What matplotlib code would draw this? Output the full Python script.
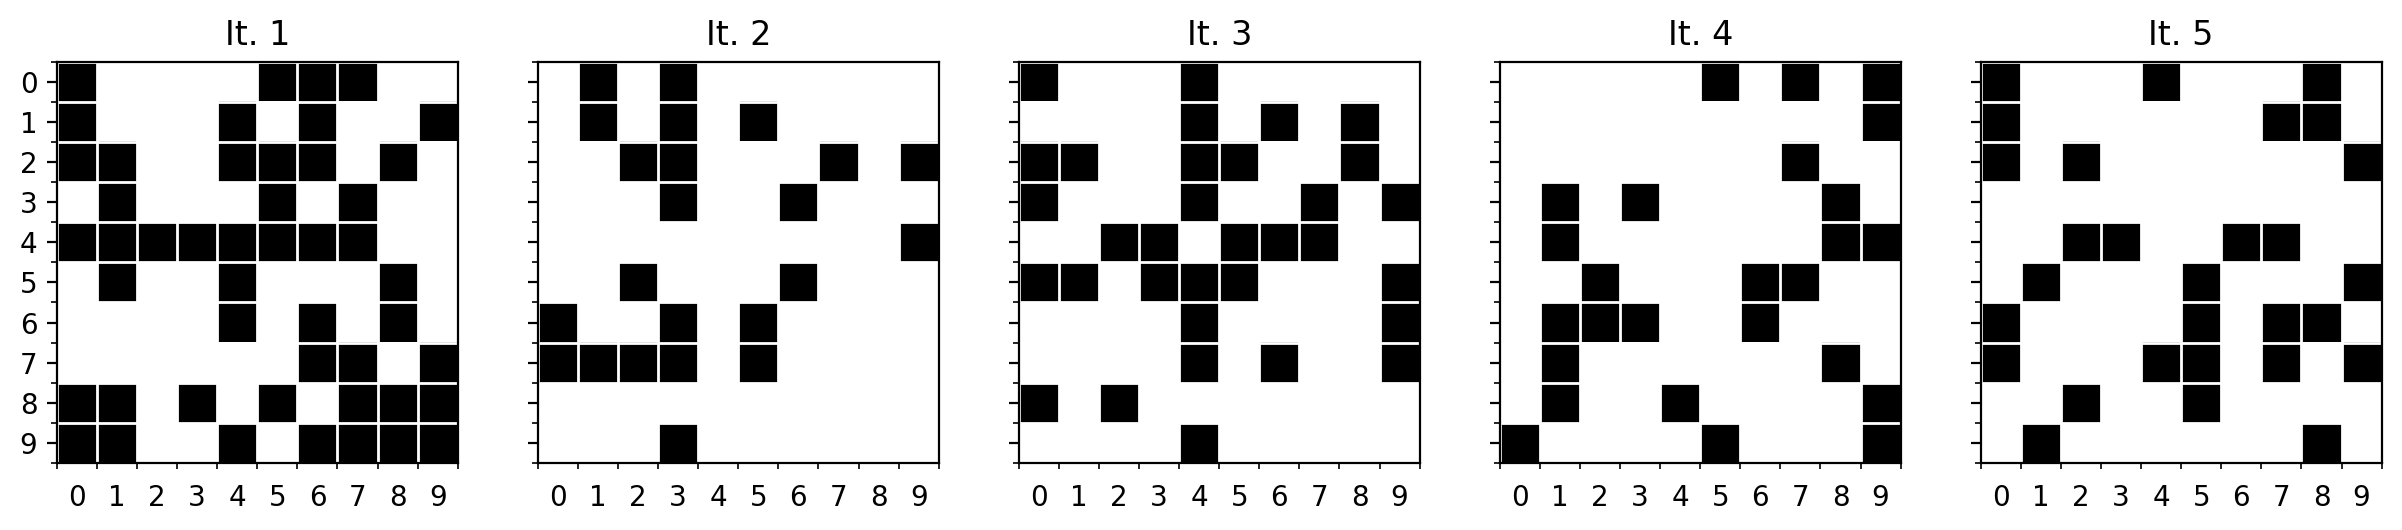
import numpy as np
import matplotlib
matplotlib.use("Agg")
import matplotlib.pyplot as plt

# cell states per iteration, one string per row (1 = black)
it1 = ["1000011100",
       "1000101001",
       "1100111010",
       "0100010100",
       "1111111100",
       "0100100010",
       "0000101010",
       "0000001101",
       "1101010111",
       "1100101111"]
it2 = ["0101000000",
       "0101010000",
       "0011000101",
       "0001001000",
       "0000000001",
       "0010001000",
       "1001010000",
       "1111010000",
       "0000000000",
       "0001000000"]
it3 = ["1000100000",
       "0000101010",
       "1100110010",
       "1000100101",
       "0011011100",
       "1101110001",
       "0000100001",
       "0000101001",
       "1010000000",
       "0000100000"]
it4 = ["0000010101",
       "0000000001",
       "0000000100",
       "0101000010",
       "0100000011",
       "0010001100",
       "0111001000",
       "0100000010",
       "0100100001",
       "1000010001"]
it5 = ["1000100010",
       "1000000110",
       "1010000001",
       "0000000000",
       "0011001100",
       "0100010001",
       "1000010110",
       "1000110101",
       "0010010000",
       "0100000010"]

grids = [it1, it2, it3, it4, it5]
titles = ["It. 1", "It. 2", "It. 3", "It. 4", "It. 5"]
labels = [str(i) for i in range(10)]

dpi = 200
fig, axes = plt.subplots(1, 5, figsize=(2402 / dpi, 530 / dpi), dpi=dpi, sharey=True)
fig.subplots_adjust(left=0.0237, right=0.9915, bottom=0.1264, top=0.8836, wspace=0.2)

for ax, rows, title in zip(axes, grids, titles):
    data = np.array([[int(c) for c in r] for r in rows])
    ax.imshow(data, cmap="binary", vmin=0, vmax=1, aspect="auto", interpolation="nearest")
    ax.set_title(title, fontsize=12)
    ax.set_xticks(range(10))
    ax.set_xticklabels(labels)
    ax.set_yticks(range(10))
    ax.set_yticklabels(labels)
    ax.set_xticks(np.arange(-0.5, 10, 1), minor=True)
    ax.set_yticks(np.arange(-0.5, 10, 1), minor=True)
    ax.grid(which="minor", color="white", linewidth=1.0)
    ax.grid(which="major", visible=False)
    # x: no marks at cell centres, only at the cell edges
    ax.tick_params(axis="x", which="major", bottom=False, pad=4)
    ax.tick_params(which="both", labelsize=10)

fig.savefig("out.png", dpi=dpi)
